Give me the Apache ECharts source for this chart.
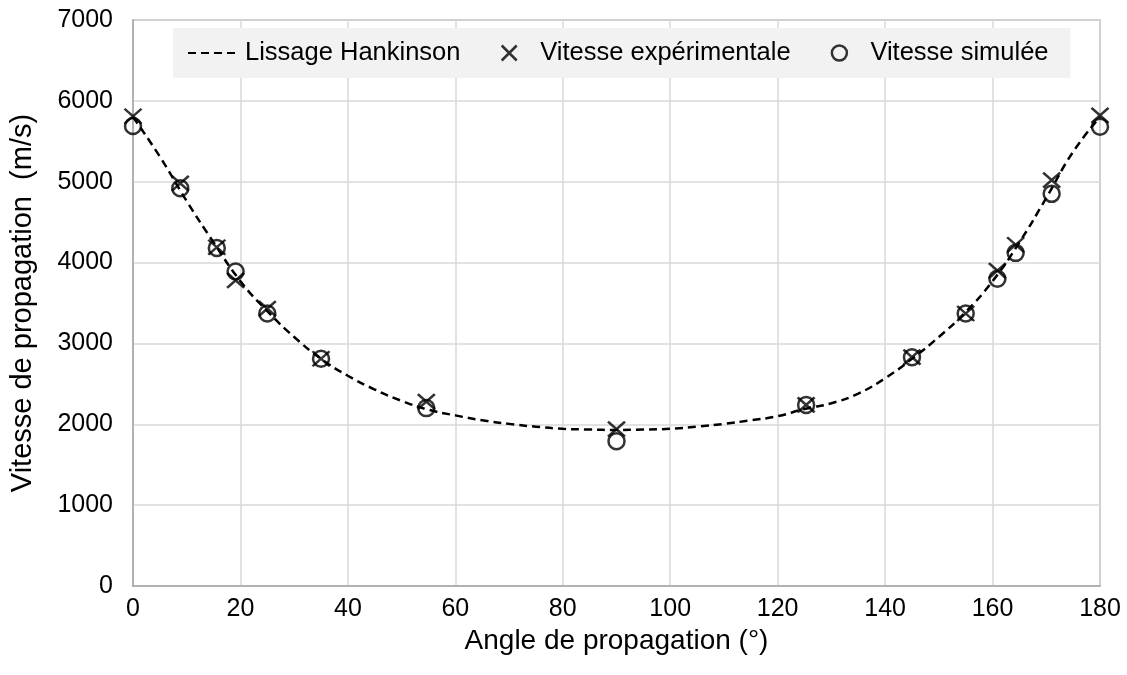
<!DOCTYPE html>
<html>
<head>
<meta charset="utf-8">
<title>Vitesse de propagation</title>
<script src="https://cdn.jsdelivr.net/npm/echarts@6/dist/echarts.min.js"></script>
<style>
  html, body { margin: 0; padding: 0; background: #fff; }
  #main { width: 1127px; height: 675px; }
</style>
</head>
<body>
<div id="main"></div>
<script>
// courbe de lissage
var fitAngles = [0, 5, 10, 15, 20, 25, 30, 35, 40, 45, 50, 55, 60, 65, 70, 75, 80, 85, 90,
  95, 100, 105, 110, 115, 120, 125, 130, 135, 140, 145, 150, 155, 160, 165, 170, 175, 180];
var fitValues = [5800, 5310, 4760, 4250, 3770, 3400, 3080, 2810, 2600, 2430, 2290, 2180, 2110, 2050, 2005, 1970, 1945, 1935, 1930,
  1935, 1945, 1970, 2005, 2050, 2100, 2190, 2260, 2380, 2570, 2810, 3080, 3390, 3770, 4250, 4800, 5370, 5800];

// points mesures
var pointAngles = [0, 8.8, 15.6, 19.1, 25, 35, 54.6, 90, 125.3, 145, 155, 160.9, 164.3, 171, 180];
var expValues = [5810, 4980, 4190, 3780, 3430, 2810, 2280, 1940, 2240, 2830, 3370, 3900, 4220, 5020, 5820];
var simValues = [5690, 4920, 4180, 3890, 3370, 2810, 2200, 1790, 2240, 2830, 3370, 3800, 4120, 4850, 5680];

var seriesNames = ['Lissage Hankinson', 'Vitesse expérimentale', 'Vitesse simulée'];

function pairs(xs, ys) {
  var out = [];
  for (var i = 0; i < xs.length; i++) {
    out.push([xs[i], ys[i]]);
  }
  return out;
}

var chart = echarts.init(document.getElementById('main'), null, { renderer: 'canvas' });

var font = 'Liberation Sans, Arial, sans-serif';
var markStyle = { color: 'transparent', borderColor: '#000', borderWidth: 2.5 };

var option = {
  backgroundColor: '#fff',
  textStyle: { fontFamily: font },
  animation: false,
  grid: {
    left: 131,
    right: 27,
    top: 20,
    bottom: 89,
    show: true,
    borderColor: '#a6a6a6',
    borderWidth: 1.5
  },
  legend: {
    left: 173,
    top: 28,
    backgroundColor: '#f2f2f2',
    padding: [12, 22, 12, 14],
    itemGap: 40,
    itemWidth: 52,
    itemHeight: 15,
    textStyle: { fontSize: 25.5, color: '#000', fontFamily: font },
    data: [
      // pas de point au milieu du trait
      { name: seriesNames[0], itemStyle: { color: 'transparent', borderColor: 'transparent', borderWidth: 0 } },
      { name: seriesNames[1], itemStyle: markStyle },
      { name: seriesNames[2], itemStyle: markStyle }
    ]
  },
  xAxis: {
    type: 'value',
    min: 0,
    max: 180,
    interval: 20,
    name: 'Angle de propagation (°)',
    nameLocation: 'middle',
    nameGap: 34,
    nameTextStyle: { fontSize: 28, color: '#000', fontFamily: font },
    axisLine: { lineStyle: { color: '#a6a6a6', width: 1.5 } },
    axisTick: { show: false },
    axisLabel: { fontSize: 25, color: '#000', margin: 11, fontFamily: font },
    splitLine: { lineStyle: { color: '#d9d9d9', width: 1.5 } }
  },
  yAxis: {
    type: 'value',
    min: 0,
    max: 7000,
    interval: 1000,
    name: 'Vitesse de propagation  (m/s)',
    nameLocation: 'middle',
    nameGap: 96,
    nameTextStyle: { fontSize: 29, color: '#000', fontFamily: font },
    axisLine: { show: true, lineStyle: { color: '#a6a6a6', width: 1.5 } },
    axisTick: { show: false },
    axisLabel: {
      fontSize: 25, color: '#000', margin: 20, fontFamily: font,
      formatter: function (v) { return String(v); }
    },
    splitLine: { lineStyle: { color: '#d9d9d9', width: 1.5 } }
  },
  series: [
    {
      name: seriesNames[0],
      type: 'line',
      smooth: true,
      showSymbol: false,
      symbol: 'none',
      data: pairs(fitAngles, fitValues),
      itemStyle: { color: '#000' },
      lineStyle: { color: '#000', width: 2.5, type: [8, 5] },
      z: 2
    },
    {
      name: seriesNames[1],
      type: 'scatter',
      symbol: 'path://M0,0L10,10M10,0L0,10',
      symbolSize: [17, 15],
      data: pairs(pointAngles, expValues),
      itemStyle: markStyle,
      z: 3
    },
    {
      name: seriesNames[2],
      type: 'scatter',
      symbol: 'circle',
      symbolSize: 16,
      data: pairs(pointAngles, simValues),
      itemStyle: markStyle,
      z: 4
    }
  ]
};

chart.setOption(option);
</script>
</body>
</html>
